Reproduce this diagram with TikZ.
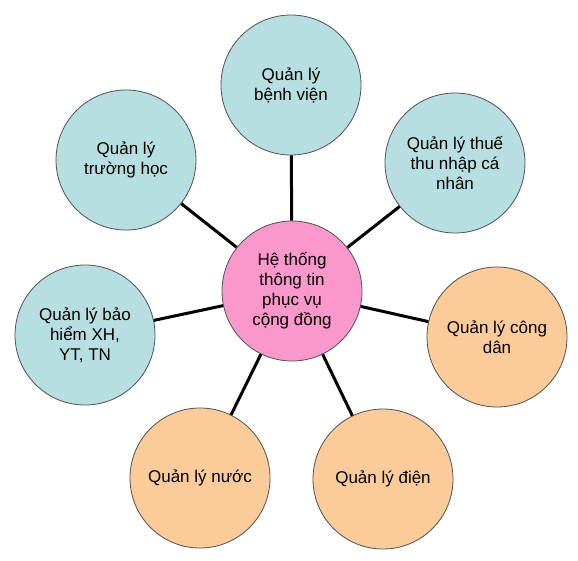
\documentclass[tikz,border=0pt]{standalone}
\usepackage{fontspec}
\setmainfont{Liberation Sans}
\definecolor{cblue}{RGB}{183,222,224}
\definecolor{cpink}{RGB}{250,152,204}
\definecolor{corange}{RGB}{251,204,154}
\definecolor{cedge}{RGB}{80,80,80}
\tikzset{
  bubble/.style={circle, draw=cedge, line width=0.8pt, minimum size=140pt, inner sep=0pt, align=center, font=\fontsize{17}{20}\selectfont},
  bluebub/.style={bubble, fill=cblue},
  orangebub/.style={bubble, fill=corange},
  pinkbub/.style={bubble, fill=cpink},
  link/.style={line width=3pt, black}
}
\begin{document}
\begin{tikzpicture}[x=1pt,y=-1pt]
\useasboundingbox (0,0) rectangle (578,560);
\node[pinkbub] (c) at (292,291) {Hệ thống\\thông tin\\phục vụ\\cộng đồng};
\node[bluebub] (t) at (291,85) {Quản lý\\bệnh viện};
\node[bluebub] (tl) at (126,160) {Quản lý\\trường học};
\node[bluebub] (tr) at (455,163) {Quản lý thuế\\thu nhập cá\\nhân};
\node[bluebub] (l) at (85,335) {Quản lý bảo\\hiểm XH,\\YT, TN};
\node[orangebub] (r) at (497,337) {Quản lý công\\dân};
\node[orangebub] (bl) at (200,478) {Quản lý nước};
\node[orangebub] (br) at (383,479) {Quản lý điện};
\foreach \n in {t,tl,tr,l,r,bl,br} \draw[link] (c) -- (\n);
\end{tikzpicture}
\end{document}
